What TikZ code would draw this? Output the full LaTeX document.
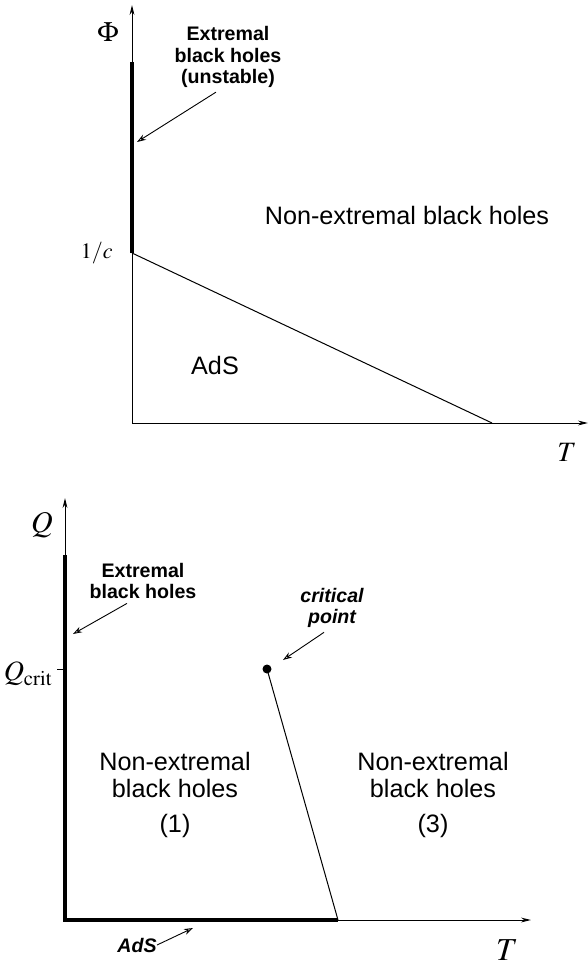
\documentclass[tikz,border=0pt]{standalone}
\usepackage{mathptmx}
\usepackage[no-math]{fontspec}
\setmainfont{Liberation Sans}
\usetikzlibrary{arrows.meta,calc}
\tikzset{
  axis/.style={-{Stealth[length=5pt,width=2.4pt]}, line width=0.5pt},
  extline/.style={line width=2pt},
  bound/.style={line width=0.5pt},
  ptr/.style={-{Stealth[open,length=4.5pt,width=3pt]}, line width=0.45pt},
  region/.style={font=\fontsize{12.6}{13.5}\selectfont, align=center, inner sep=0pt},
  note/.style={font=\fontsize{9.8}{10.8}\selectfont\bfseries, align=center, inner sep=0pt},
  inote/.style={font=\fontsize{9.8}{10.8}\selectfont\bfseries\itshape, align=center, inner sep=0pt},
  mlbl/.style={inner sep=0pt},
}
\begin{document}
\begin{tikzpicture}[x=0.5pt, y=-0.5pt]
\useasboundingbox (0,0) rectangle (588,964);
% upper diagram: Phi against T
\coordinate (oa) at (132,423);
\coordinate (ya) at (132,5);
\coordinate (xa) at (588,423);
\coordinate (ca) at (132,253);
\coordinate (ea) at (132,62);
\coordinate (ta) at (492,423);
\coordinate (tipa) at (137,142);
\draw[axis] (oa) -- (ya);
\draw[axis] (oa) -- (xa);
\draw[extline] (ca) -- (ea);
\draw[bound] (ca) -- (ta);
\node[mlbl, font=\fontsize{14}{14}\selectfont] (phi) at (108,32) {$\Phi$};
\node[mlbl, anchor=east, font=\fontsize{11}{11}\selectfont] (oneoverc) at (113,253) {$1/c$};
\node[mlbl, font=\fontsize{14}{14}\selectfont] (Ta) at (567,452) {$T$};
\node[note] (exta) at (228,57) {Extremal\\black holes\\(unstable)};
\draw[ptr] ([xshift=-6pt,yshift=-2pt]exta.south) -- (tipa);
\node[region] (nexa) at (407,215) {Non-extremal black holes};
\node[region] (adsa) at (215,365) {AdS};
% lower diagram: Q against T
\coordinate (ob) at (65,920);
\coordinate (yb) at (65,498);
\coordinate (xb) at (531,920);
\coordinate (eb) at (65,555);
\coordinate (qb) at (65,669);
\coordinate (qt) at (57,669);
\coordinate (tb) at (338,920);
\coordinate (tipb) at (73,634);
\coordinate (tipc) at (283,660);
\coordinate (tipd) at (193,928);
\draw[axis] (ob) -- (yb);
\draw[axis] (ob) -- (xb);
\draw[extline] (eb) -- (ob) -- (tb);
\draw[bound] (qt) -- (qb);
\node[circle, fill, inner sep=0pt, minimum size=4.5pt] (crit) at (267,669) {};
\draw[bound] (crit.center) -- (tb);
\node[mlbl, font=\fontsize{15}{15}\selectfont] (Q) at (42,525) {$Q$};
\node[mlbl, anchor=east, font=\fontsize{14}{14}\selectfont] (Qc) at (53,674) {$Q_{\mathrm{crit}}$};
\node[mlbl, font=\fontsize{16}{16}\selectfont] (Tb) at (507,950) {$T$};
\node[note] (extb) at (143,581) {Extremal\\black holes};
\draw[ptr] ([xshift=-8pt,yshift=-2pt]extb.south) -- (tipb);
\node[inote] (critlbl) at (332,608) {critical\\point};
\node[inote] (adsb) at (137,945) {AdS};
\draw[ptr] (adsb.east) -- (tipd);
\draw[ptr] ([xshift=-4pt,yshift=-2pt]critlbl.south) -- (tipc);
\node[region] (nex1) at (175,795) {Non-extremal\\black holes\\[4pt](1)};
\node[region] (nex3) at (433,795) {Non-extremal\\black holes\\[4pt](3)};
\end{tikzpicture}
\end{document}
